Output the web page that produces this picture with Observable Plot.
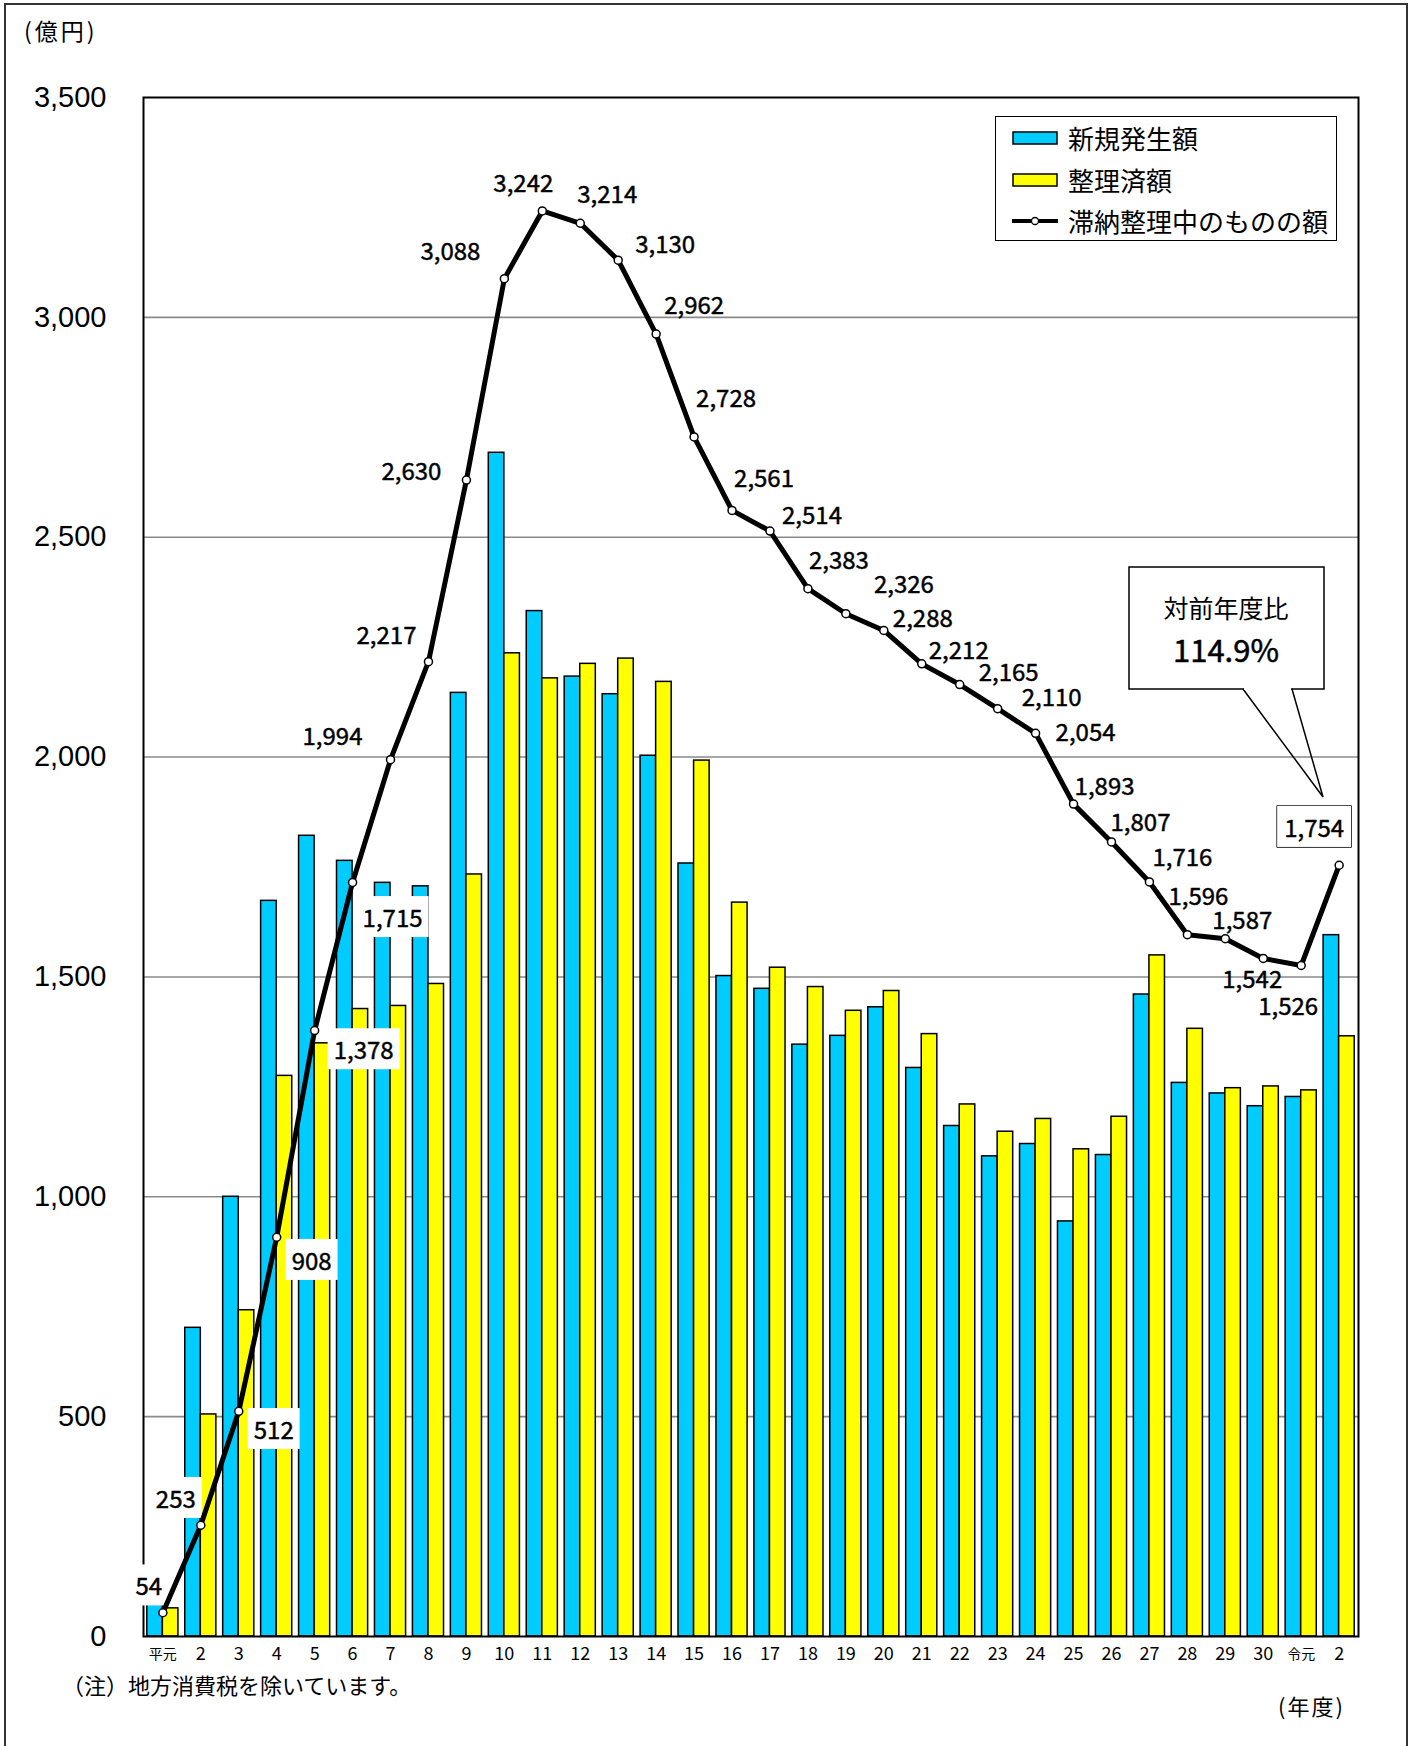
<!DOCTYPE html>
<html>
<head>
<meta charset="utf-8">
<script src="https://cdn.jsdelivr.net/npm/d3@7"></script>
<script src="https://cdn.jsdelivr.net/npm/@observablehq/plot@0.6"></script>
<style>
  body { margin: 0; background: #fff; }
  #page { position: relative; width: 1413px; height: 1746px; overflow: hidden;
          font-family: "Noto Sans CJK JP", sans-serif; color: #000; background: #fff; }
  #outer { position: absolute; left: 4px; top: 3px; width: 1404px; height: 1780px;
           border: 2px solid #333; box-sizing: border-box; }
  #chart { position: absolute; left: 0; top: 0; }
  .txt { position: absolute; white-space: nowrap; line-height: 1; }
  #legend { position: absolute; left: 995px; top: 116px; width: 342px; height: 125px;
            border: 1.5px solid #000; background: #fff; box-sizing: border-box; }
  .row { position: absolute; left: 0; height: 30px; display: flex; align-items: center; }
  .row span { font-size: 26px; line-height: 1; margin-left: 8px; }
  #overlay { position: absolute; left: 0; top: 0; pointer-events: none; }
</style>
</head>
<body>
<div id="page">
  <div id="outer"></div>
  <div id="chart"></div>
  <svg id="overlay" width="1413" height="1746"></svg>
  <div id="legend"></div>
  <div class="txt" id="unit" style="left:24px; top:19px; font-size:23px; letter-spacing:3px;">(億円)</div>
  <div class="txt" id="note" style="left:62px; top:1673px; font-size:22px;">（注）地方消費税を除いています。</div>
  <div class="txt" id="fy" style="left:1278px; top:1694px; font-size:22px; letter-spacing:2px;">(年度)</div>
</div>
<script>
// ---- data ----
const keys = ["H1","H2","H3","H4","H5","H6","H7","H8","H9","H10","H11","H12","H13","H14","H15",
  "H16","H17","H18","H19","H20","H21","H22","H23","H24","H25","H26","H27","H28","H29","H30","R1","R2"];
const yearLabels = ["平元","2","3","4","5","6","7","8","9","10","11","12","13","14","15",
  "16","17","18","19","20","21","22","23","24","25","26","27","28","29","30","令元","2"];
const newAmount = [118, 702, 1000, 1673, 1821, 1764, 1714, 1706, 2146, 2692, 2332, 2183, 2143, 2003, 1758,
  1502, 1473, 1346, 1366, 1431, 1293, 1161, 1092, 1120, 944, 1095, 1460, 1259, 1235, 1206, 1227, 1595];
const settledAmount = [64, 505, 742, 1275, 1349, 1427, 1434, 1484, 1733, 2236, 2179, 2212, 2224, 2171, 1992,
  1669, 1521, 1477, 1423, 1468, 1370, 1210, 1148, 1177, 1108, 1182, 1549, 1382, 1247, 1251, 1242, 1365];
const backlogAmount = [54, 253, 512, 908, 1378, 1715, 1994, 2217, 2630, 3088, 3242, 3214, 3130, 2962, 2728,
  2561, 2514, 2383, 2326, 2288, 2212, 2165, 2110, 2054, 1893, 1807, 1716, 1596, 1587, 1542, 1526, 1754];
const yTicks = [0, 500, 1000, 1500, 2000, 2500, 3000, 3500];
const seriesNames = ["新規発生額", "整理済額", "滞納整理中のものの額"];
const calloutTitle = "対前年度比";
const calloutValue = "114.9%";

// label placement offsets (px) for the backlog value labels
const labelOffsets = [[-14,-25],[-25,-25],[35,20],[35,25],[49,21],[40,37],[-58,-22],[-42,-25],[-55,-8],[-54,-26],
  [-19,-27],[27,-28],[47,-15],[38,-28],[32,-38],[32,-31],[42,-15],[31,-27],[58,-28],[39,-11],
  [37,-13],[49,-11],[54,-10],[50,0],[31,-17],[29,-19],[33,-24],[11,-37],[17,-17],[-11,22],[-13,42],[-25,-36]];
const boxedKeys = new Set(["H1","H2","H3","H4","H5","H6"]);
const framedKeys = new Set(["R2"]);

const BLUE = "#00CCFF", YELLOW = "#FFFF00";
const data = keys.map((k, i) => ({key: k, label: yearLabels[i], newAmt: newAmount[i],
  settled: settledAmount[i], stock: backlogAmount[i]}));
const labelOf = new Map(keys.map((k, i) => [k, yearLabels[i]]));
const fmt = d3.format(",");
const eraKeys = keys.filter(k => isNaN(+labelOf.get(k)));
const numKeys = keys.filter(k => !eraKeys.includes(k));

const W = 1413, H = 1746;
const mL = 143, mT = 97, mR = 55, mB = 110;
const pInner = 0.18, pOuter = 0.1;
const step = (W - mL - mR) / (keys.length - pInner + 2 * pOuter);
const half = step * (1 - pInner) / 2;

const labelMarks = data.map((d, i) => Plot.text([d], {
  x: "key", y: "stock", text: d => fmt(d.stock),
  dx: labelOffsets[i][0], dy: labelOffsets[i][1],
  fontSize: 24, fontFamily: "Noto Sans CJK JP", fill: "#000", stroke: "#000", strokeWidth: 0.45
}));

const plot = Plot.plot({
  width: W, height: H,
  marginLeft: mL, marginTop: mT, marginRight: mR, marginBottom: mB,
  style: {background: "transparent", overflow: "visible"},
  x: {type: "band", domain: keys, paddingInner: pInner, paddingOuter: pOuter, align: 0.5, label: null},
  y: {domain: [0, 3500], label: null},
  marks: [
    Plot.gridY(yTicks.filter(t => t > 0 && t < 3500), {stroke: "#8a8a8a", strokeOpacity: 1, strokeWidth: 1.6}),
    Plot.barY(data, {x: "key", y: "newAmt", fill: BLUE, stroke: "#000", strokeWidth: 1.5, insetRight: half}),
    Plot.barY(data, {x: "key", y: "settled", fill: YELLOW, stroke: "#000", strokeWidth: 1.5, insetLeft: half}),
    Plot.frame({stroke: "#000", strokeWidth: 2}),
    ...labelMarks,
    Plot.line(data, {x: "key", y: "stock", stroke: "#000", strokeWidth: 5, strokeLinejoin: "round"}),
    Plot.dot(data, {x: "key", y: "stock", r: 4, fill: "#fff", stroke: "#000", strokeWidth: 1.5}),
    Plot.axisY(yTicks, {tickSize: 0, tickPadding: 37, tickFormat: d3.format(","), fontSize: 29, label: null,
      fontFamily: "Liberation Sans, Arial, sans-serif", fill: "#000"}),
    Plot.axisX(numKeys, {tickSize: 0, tickPadding: 11, tickFormat: k => labelOf.get(k), fontSize: 18, label: null,
      fontFamily: "Noto Sans CJK JP", fill: "#000"}),
    Plot.axisX(eraKeys, {tickSize: 0, tickPadding: 13, tickFormat: k => labelOf.get(k), fontSize: 14, label: null,
      fontFamily: "Noto Sans CJK JP", fill: "#000"})
  ]
});
document.getElementById("chart").appendChild(plot);

// white/framed boxes behind selected value labels
const wanted = new Map(data.filter(d => boxedKeys.has(d.key) || framedKeys.has(d.key)).map(d => [fmt(d.stock), d.key]));
d3.select(plot).selectAll("text").each(function() {
  const key = wanted.get(this.textContent);
  if (!key || this.getAttribute("font-size") === "29") return;
  const b = this.getBBox();
  const framed = framedKeys.has(key);
  const px = framed ? 7 : 6, py = 3;
  d3.select(this.parentNode).insert("rect", () => this)
    .attr("transform", this.getAttribute("transform"))
    .attr("x", b.x - px).attr("y", b.y - py)
    .attr("width", b.width + 2 * px).attr("height", b.height + 2 * py)
    .attr("fill", "#fff").attr("stroke", framed ? "#000" : "none").attr("stroke-width", 1.5);
});

// callout
const ov = d3.select("#overlay");
ov.append("rect").attr("x", 1129).attr("y", 567).attr("width", 195).attr("height", 122)
  .attr("fill", "#fff").attr("stroke", "#000").attr("stroke-width", 1.5);
ov.append("path").attr("d", "M1243,689 L1323,797 L1292,689")
  .attr("fill", "none").attr("stroke", "#000").attr("stroke-width", 1.5);
ov.append("rect").attr("x", 1244).attr("y", 688).attr("width", 47).attr("height", 2).attr("fill", "#fff");
ov.append("text").attr("x", 1226).attr("y", 607).attr("text-anchor", "middle").attr("dominant-baseline", "central")
  .attr("font-size", 25).attr("font-family", "Noto Sans CJK JP").text(calloutTitle);
ov.append("text").attr("x", 1226).attr("y", 648).attr("text-anchor", "middle").attr("dominant-baseline", "central")
  .attr("font-size", 31).attr("stroke", "#000").attr("stroke-width", 0.5)
  .attr("font-family", "Noto Sans CJK JP").text(calloutValue);

// legend
const legend = d3.select("#legend");
const swatchKinds = [{fill: BLUE}, {fill: YELLOW}, {line: true}];
seriesNames.forEach((name, i) => {
  const row = legend.append("div").attr("class", "row").style("top", (6 + i * 41.5) + "px").style("left", "14px");
  const s = row.append("svg").attr("width", 50).attr("height", 20);
  if (swatchKinds[i].line) {
    s.append("line").attr("x1", 2).attr("x2", 48).attr("y1", 10).attr("y2", 10).attr("stroke", "#000").attr("stroke-width", 4);
    s.append("circle").attr("cx", 25).attr("cy", 10).attr("r", 3.5).attr("fill", "#fff").attr("stroke", "#000").attr("stroke-width", 1.3);
  } else {
    s.append("rect").attr("x", 3).attr("y", 4).attr("width", 44).attr("height", 12)
      .attr("fill", swatchKinds[i].fill).attr("stroke", "#000").attr("stroke-width", 1.5);
  }
  row.append("span").text(name);
});
</script>
</body>
</html>
